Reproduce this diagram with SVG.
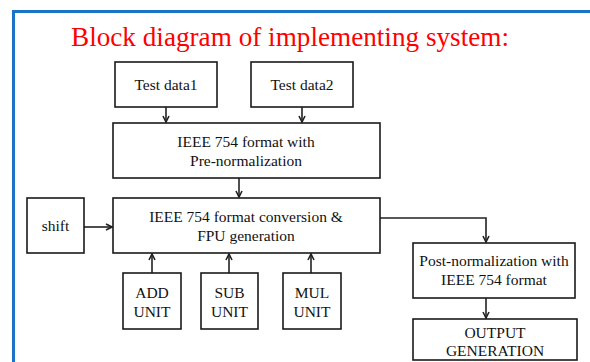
<svg xmlns="http://www.w3.org/2000/svg" width="590" height="362" viewBox="0 0 590 362">
<defs>
<style>
.box{fill:#fff;stroke:#1a1a1a;stroke-width:1.6}
.t{font-family:Liberation Serif,Tinos,Times New Roman,DejaVu Serif,serif;font-size:15.5px;fill:#111;text-anchor:middle}
.c{fill:none;stroke:#222;stroke-width:1.6}
</style>
<marker id="ah" viewBox="0 0 8 8" refX="7" refY="4" markerWidth="8" markerHeight="8" markerUnits="userSpaceOnUse" orient="auto">
<path d="M1,1 L7,4 L1,7" fill="none" stroke="#222" stroke-width="1.6"/>
</marker>
</defs>
<rect width="590" height="362" fill="#fff"/>
<path d="M13.5,362 V11.5 H590" fill="none" stroke="#1a73c6" stroke-width="3"/>
<text x="71" y="46" font-family="Liberation Serif,Tinos,Times New Roman,DejaVu Serif,serif" font-size="27.5" fill="#ff0000" textLength="438" lengthAdjust="spacingAndGlyphs">Block diagram of implementing system:</text>

<g id="connectors">
<line class="c" x1="166" y1="107" x2="166" y2="122" marker-end="url(#ah)"/>
<line class="c" x1="302" y1="107" x2="302" y2="122" marker-end="url(#ah)"/>
<line class="c" x1="239" y1="178" x2="239" y2="197" marker-end="url(#ah)"/>
<line class="c" x1="84" y1="227" x2="112" y2="227" marker-end="url(#ah)"/>
<line class="c" x1="152" y1="273" x2="152" y2="254" marker-end="url(#ah)"/>
<line class="c" x1="229" y1="273" x2="229" y2="254" marker-end="url(#ah)"/>
<line class="c" x1="311" y1="273" x2="311" y2="254" marker-end="url(#ah)"/>
<path class="c" d="M380,218 H486 V242" marker-end="url(#ah)"/>
<line class="c" x1="486" y1="298" x2="486" y2="318" marker-end="url(#ah)"/>
</g>

<g id="testdata1"><rect class="box" x="115" y="62" width="102" height="45"/><text class="t" x="166" y="90">Test data1</text></g>
<g id="testdata2"><rect class="box" x="251" y="62" width="102" height="45"/><text class="t" x="302" y="90">Test data2</text></g>
<g id="prenorm"><rect class="box" x="113" y="123" width="267" height="55"/><text class="t" x="246" y="146.5">IEEE 754 format with</text><text class="t" x="246" y="166">Pre-normalization</text></g>
<g id="fpu"><rect class="box" x="113" y="198" width="267" height="55"/><text class="t" x="246" y="222">IEEE 754 format conversion &amp;</text><text class="t" x="246" y="241">FPU generation</text></g>
<g id="shift"><rect class="box" x="27" y="198" width="57" height="55"/><text class="t" x="55.5" y="231">shift</text></g>
<g id="add"><rect class="box" x="123" y="273" width="58" height="56"/><text class="t" x="152" y="298">ADD</text><text class="t" x="152" y="317">UNIT</text></g>
<g id="sub"><rect class="box" x="201" y="273" width="57" height="56"/><text class="t" x="229.5" y="298">SUB</text><text class="t" x="229.5" y="317">UNIT</text></g>
<g id="mul"><rect class="box" x="283" y="273" width="58" height="56"/><text class="t" x="312" y="298">MUL</text><text class="t" x="312" y="317">UNIT</text></g>
<g id="postnorm"><rect class="box" x="413" y="243" width="162" height="55"/><text class="t" x="494" y="265.5">Post-normalization with</text><text class="t" x="494" y="284.5">IEEE 754 format</text></g>
<g id="output"><rect class="box" x="413" y="319" width="164" height="41"/><text class="t" x="495" y="338">OUTPUT</text><text class="t" x="495" y="356">GENERATION</text></g>
</svg>
